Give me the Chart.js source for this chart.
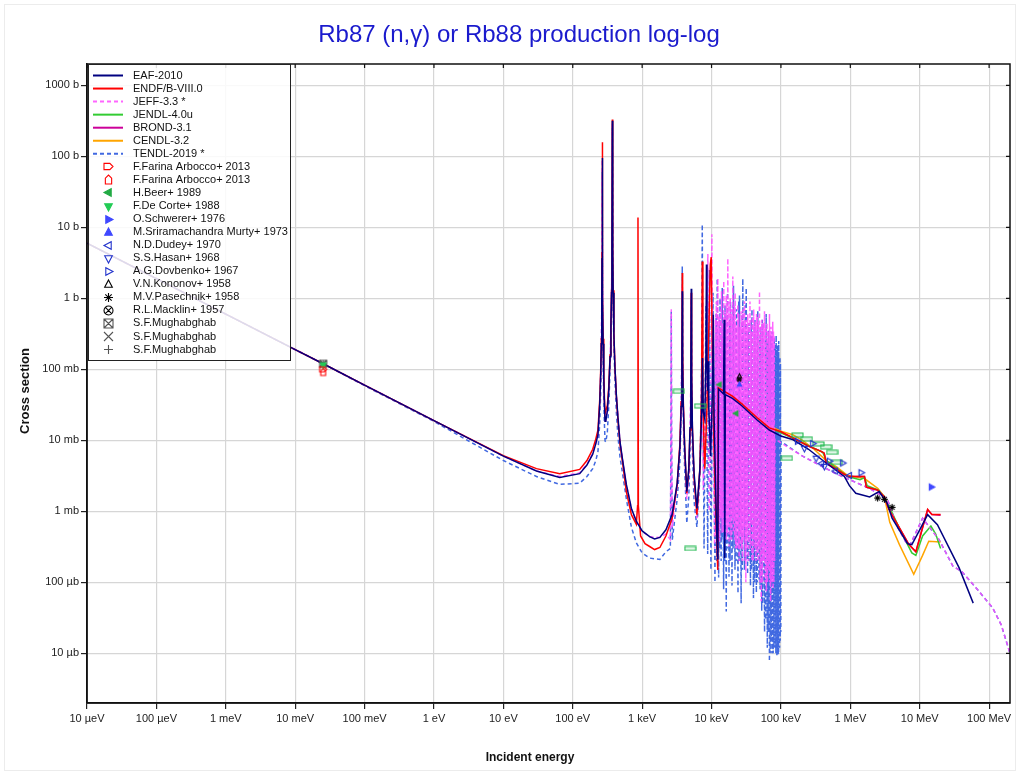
<!DOCTYPE html>
<html>
<head>
<meta charset="utf-8">
<title>Rb87 (n,γ) or Rb88 production log-log</title>
<script src="https://cdn.jsdelivr.net/npm/chart.js@4.4.1/dist/chart.umd.min.js"></script>
<style>
  html, body { margin: 0; padding: 0; background: #fff; }
  #wrap { position: relative; width: 1020px; height: 774px; }
</style>
</head>
<body>
<div id="wrap"><canvas id="chart" width="1020" height="774"></canvas></div>
<script>
// energies in eV, cross sections in barns

const xTickValues = [1e-5, 1e-4, 1e-3, 1e-2, 1e-1, 1, 10, 100, 1e3, 1e4, 1e5, 1e6, 1e7, 1e8];
const xTickLabels = ['10 µeV', '100 µeV', '1 meV', '10 meV', '100 meV', '1 eV', '10 eV', '100 eV',
                     '1 keV', '10 keV', '100 keV', '1 MeV', '10 MeV', '100 MeV'];
const yTickValues = [1e-5, 1e-4, 1e-3, 1e-2, 1e-1, 1, 10, 100, 1000];
const yTickLabels = ['10 µb', '100 µb', '1 mb', '10 mb', '100 mb', '1 b', '10 b', '100 b', '1000 b'];

const eaf2010 = [
    [1e-5, 6.0], [1e-4, 1.9], [1e-3, 0.60], [1e-2, 0.19], [0.0253, 0.12], [0.1, 0.060], [1, 0.019],
    [10, 0.0060], [30, 0.0037], [65, 0.0030], [126, 0.0034], [160, 0.0045], [194, 0.0064], [215, 0.0090],
    [231, 0.012], [245, 0.033], [253, 0.087], [258, 0.23], [262, 0.92], [264, 3.7], [266, 95], [268, 3.7],
    [270, 0.92], [274, 0.23], [280, 0.075], [286, 0.033], [292, 0.0186], [300, 0.019], [315, 0.026],
    [330, 0.05], [345, 0.15], [355, 0.4], [362, 1.2], [367, 4.9], [372, 318], [377, 4.9], [382, 1.2],
    [392, 0.3], [405, 0.11], [425, 0.043], [449, 0.0206], [480, 0.0095], [520, 0.0055], [592, 0.0024],
    [700, 0.0011], [824, 0.00073], [1000, 0.00053], [1282, 0.00044], [1513, 0.00041], [1800, 0.00043],
    [2200, 0.00055], [2700, 0.0009], [3200, 0.0025], [3500, 0.008], [3650, 0.03], [3740, 0.12],
    [3786, 1.26], [3830, 0.12], [3920, 0.03], [4100, 0.008], [4400, 0.0019], [4700, 0.004], [4900, 0.015],
    [5030, 0.08], [5100, 1.37], [5170, 0.08], [5300, 0.015], [5600, 0.0035], [6150, 0.0011], [6800, 0.004],
    [7250, 0.03], [7400, 0.144], [7600, 0.025], [8000, 0.02], [8300, 0.15], [8450, 3.0], [8600, 0.15],
    [8800, 0.05], [8900, 0.13], [9100, 0.03], [9700, 0.006], [10300, 0.05], [10600, 0.59], [10900, 0.02],
    [11800, 0.0006], [12300, 0.00021], [12600, 0.053], [14900, 0.045], [15200, 0.5], [15500, 0.00022],
    [15800, 0.044], [20000, 0.039], [27000, 0.031], [45000, 0.0195], [68000, 0.014], [100000, 0.0115],
    [150000, 0.0102], [250000, 0.0075], [447000, 0.0048], [820000, 0.0031], [970000, 0.0023],
    [1.2e6, 0.0018], [1.9e6, 0.0016], [2.6e6, 0.0019], [3.4e6, 0.0013], [4.0e6, 0.0008], [6.7e6, 0.00035],
    [7.7e6, 0.00034], [10e6, 0.00055], [13e6, 0.0009], [18e6, 0.00065], [37e6, 0.00016], [59e6, 0.000051]
];

const endfb8 = [
    [1e-5, 6.0], [1e-4, 1.9], [1e-3, 0.60], [1e-2, 0.19], [0.0253, 0.12], [0.1, 0.060], [1, 0.019],
    [10, 0.0061], [30, 0.0040], [65, 0.0034], [126, 0.0039], [160, 0.0052], [194, 0.0075], [215, 0.0105],
    [231, 0.014], [245, 0.038], [253, 0.1], [258, 0.27], [262, 1.1], [264, 4.5], [266, 158], [268, 4.5],
    [270, 1.1], [274, 0.27], [280, 0.09], [286, 0.04], [292, 0.024], [300, 0.024], [315, 0.031],
    [330, 0.056], [345, 0.16], [355, 0.43], [362, 1.3], [367, 5.2], [372, 330], [377, 5.2], [382, 1.3],
    [392, 0.31], [405, 0.11], [425, 0.042], [449, 0.019], [480, 0.0088], [520, 0.005], [592, 0.0019],
    [700, 0.0009], [824, 0.00066], [860, 0.0012], [871, 13.8], [882, 0.0012], [950, 0.00045],
    [1100, 0.00035], [1282, 0.00032], [1513, 0.00029], [1800, 0.00031], [2200, 0.00045], [2700, 0.0008],
    [3200, 0.0024], [3500, 0.009], [3650, 0.035], [3740, 0.2], [3786, 2.27], [3830, 0.2], [3920, 0.035],
    [4100, 0.008], [4400, 0.0018], [4700, 0.0038], [4900, 0.014], [5030, 0.07], [5100, 1.2], [5170, 0.07],
    [5300, 0.014], [5600, 0.003], [6150, 0.0009], [6800, 0.004], [7200, 0.05], [7350, 3.3], [7500, 0.05],
    [7800, 0.008], [8000, 0.004], [8600, 0.03], [9200, 0.5], [9600, 3.0], [9900, 3.8], [10200, 0.3],
    [10800, 0.01], [11500, 0.001], [12300, 0.00015], [12500, 0.055], [20000, 0.042], [27000, 0.033],
    [45000, 0.021], [68000, 0.015], [100000, 0.0132], [150000, 0.0108], [250000, 0.0083], [380000, 0.0070],
    [420000, 0.0066], [450000, 0.0048], [920000, 0.0031], [1.6e6, 0.0031], [1.7e6, 0.0022],
    [2.46e6, 0.0020], [3.1e6, 0.0016], [3.6e6, 0.00107], [7.0e6, 0.00034], [8.8e6, 0.00027],
    [13e6, 0.00107], [15e6, 0.0009], [20e6, 0.0009]
];

const jeff33 = [
    [1e-5, 6.0], [1e-4, 1.9], [1e-3, 0.60], [1e-2, 0.19], [0.0253, 0.12], [0.1, 0.060], [1, 0.019],
    [10, 0.0060], [30, 0.0037], [65, 0.0031], [126, 0.0035], [160, 0.0046], [194, 0.0065], [215, 0.0091],
    [231, 0.012], [245, 0.033], [253, 0.087], [258, 0.23], [262, 0.9], [264, 3.6], [266, 90], [268, 3.6],
    [270, 0.9], [274, 0.23], [280, 0.075], [286, 0.033], [292, 0.019], [300, 0.019], [315, 0.026],
    [330, 0.05], [345, 0.15], [355, 0.4], [362, 1.2], [367, 4.8], [372, 300], [377, 4.8], [382, 1.2],
    [392, 0.3], [405, 0.11], [425, 0.043], [449, 0.021], [480, 0.0097], [520, 0.0056], [592, 0.0024],
    [700, 0.0011], [824, 0.00072], [1000, 0.00052], [1282, 0.00044], [1800, 0.00043], [2200, 0.00048],
    [2550, 0.0004], [2600, 0.01], [2630, 0.7], [2660, 0.01], [2720, 0.0006], [3200, 0.0025], [3500, 0.008],
    [3650, 0.03], [3740, 0.13], [3786, 1.5], [3830, 0.13], [3920, 0.03], [4100, 0.007], [4400, 0.0015],
    [4700, 0.0035], [4900, 0.014], [5030, 0.07], [5100, 1.2], [5170, 0.07], [5300, 0.014], [5600, 0.003],
    [6150, 0.0008], [6900, 0.005], [7300, 0.3], [7600, 0.002], [8300, 0.05], [8850, 4.2], [9300, 0.001],
    [9800, 0.05], [10100, 8], [10500, 0.01], [11100, 0.0003], [11400, 0.5], [11550, 0.0005], [11700, 0.9],
    [11900, 0.0006], [12100, 0.4], [12200, 0.0008], [12320, 1.91], [12600, 0.0004], [12850, 0.55],
    [13100, 0.00038], [13500, 0.7], [13700, 0.0008], [13930, 1.26], [14200, 0.0005], [14450, 0.45],
    [14700, 0.0005], [15000, 1.75], [15300, 0.0006], [15600, 0.6], [16000, 0.0007], [16300, 1.1],
    [16450, 0.0004], [16600, 0.8], [16850, 0.0005], [17160, 3.66], [17500, 0.0006], [17700, 0.9],
    [17900, 0.00032], [18200, 0.5], [18400, 0.0006], [18600, 1.0], [19000, 0.0004], [19300, 0.7],
    [19500, 0.0004], [19800, 0.6], [20000, 0.0008], [20250, 2.04], [20600, 0.0005], [20800, 0.5],
    [21000, 0.00072], [21400, 0.8], [21650, 0.0004], [21900, 1.2], [22300, 0.0003], [22600, 0.4],
    [22900, 0.0003], [23400, 0.5], [23650, 0.0006], [23900, 0.82], [24300, 0.0003], [24700, 0.6],
    [25000, 0.0002], [25300, 0.35], [25600, 0.0003], [26000, 0.4], [26300, 0.0005], [26700, 0.66],
    [27100, 0.0003], [27500, 0.5], [27900, 0.0002], [28300, 0.7], [28700, 0.0004], [29100, 0.45],
    [29500, 0.0006], [29900, 0.91], [30400, 0.0002], [30900, 0.5], [31200, 0.0001], [31500, 0.4],
    [31900, 0.0003], [32400, 0.5], [32850, 0.0004], [33300, 0.60], [33900, 0.0002], [34500, 0.45],
    [35100, 0.0004], [35800, 0.9], [36200, 0.0003], [36700, 0.5], [37100, 0.00072], [37600, 0.34],
    [38300, 0.0002], [39000, 0.55], [39700, 0.0002], [40500, 0.7], [41100, 0.0004], [41700, 0.4],
    [42300, 0.0003], [43000, 0.47], [43700, 0.0002], [44500, 0.6], [45200, 0.00027], [46000, 0.55],
    [46800, 0.0002], [47500, 0.45], [48300, 0.0003], [49100, 1.26], [50000, 0.0001], [51000, 0.4],
    [52000, 0.000054], [53000, 0.5], [54200, 0.0001], [55500, 0.45], [56200, 0.0002], [56800, 0.35],
    [57400, 0.0002], [58000, 0.66], [59200, 0.0001], [60500, 0.4], [61700, 0.000075], [63000, 0.45],
    [64200, 0.0001], [65500, 0.35], [66300, 0.00015], [67000, 0.3], [67700, 0.0002], [68400, 0.60],
    [69200, 0.0001], [70000, 0.35], [71000, 0.000054], [72000, 0.4], [73000, 0.0001], [74000, 0.3],
    [75100, 0.0001], [76200, 0.47], [77100, 0.00008], [78000, 0.35], [79000, 0.0001], [80000, 0.3],
    [81000, 0.0002], [82000, 0.0105], [100000, 0.0092], [205000, 0.0060], [620000, 0.0034],
    [1.9e6, 0.0021], [3.4e6, 0.0015], [4.6e6, 0.00065], [6.3e6, 0.00037], [7.3e6, 0.00034], [11e6, 0.0008],
    [19e6, 0.0004], [30e6, 0.00017], [41e6, 0.00014], [64e6, 0.000085], [112e6, 0.000044],
    [150e6, 0.000025], [200e6, 0.000010]
];

const jendl40u = [
    [12500, 0.055], [20000, 0.042], [27000, 0.033], [45000, 0.0205], [68000, 0.015], [100000, 0.0128],
    [150000, 0.0107], [250000, 0.0084], [400000, 0.0068], [450000, 0.0052], [920000, 0.0031],
    [1.38e6, 0.0028], [1.6e6, 0.0030], [1.75e6, 0.0023], [2.5e6, 0.0020], [3.1e6, 0.0016], [3.6e6, 0.0012],
    [5.07e6, 0.00058], [7.7e6, 0.00026], [8.8e6, 0.00024], [11e6, 0.00045], [14.5e6, 0.00062],
    [17e6, 0.00048], [20e6, 0.0003]
];

const brond31 = [
    [12500, 0.055], [20000, 0.042], [27000, 0.033], [45000, 0.021], [68000, 0.015], [100000, 0.0130],
    [150000, 0.0108], [250000, 0.0083], [380000, 0.0070], [420000, 0.0066], [450000, 0.0048],
    [920000, 0.0031], [1.6e6, 0.0031], [1.7e6, 0.0022], [2.46e6, 0.0020], [3.1e6, 0.0016], [3.6e6, 0.00107],
    [7.0e6, 0.00034], [8.8e6, 0.00027], [13e6, 0.00105], [15e6, 0.0009], [20e6, 0.00088]
];

const cendl32 = [
    [12500, 0.056], [27000, 0.034], [45000, 0.022], [68000, 0.016], [100000, 0.0135], [148000, 0.012],
    [205000, 0.0100], [300000, 0.0075], [450000, 0.0052], [620000, 0.0043], [920000, 0.0032],
    [1.6e6, 0.0029], [2.5e6, 0.0021], [3.1e6, 0.0016], [3.7e6, 0.0007], [5.1e6, 0.00034], [8.2e6, 0.00013],
    [11e6, 0.00024], [13.5e6, 0.00038], [20e6, 0.00037]
];

const tendl2019 = [
    [1e-5, 6.0], [1e-4, 1.9], [1e-3, 0.60], [1e-2, 0.19], [0.0253, 0.12], [0.1, 0.059], [1, 0.0185],
    [10, 0.0052], [30, 0.0031], [65, 0.0024], [126, 0.0025], [160, 0.0031], [194, 0.0040], [215, 0.0052],
    [231, 0.007], [245, 0.018], [253, 0.05], [258, 0.14], [262, 0.55], [264, 2.3], [266, 60], [268, 2.3],
    [270, 0.55], [274, 0.14], [280, 0.04], [286, 0.017], [292, 0.0098], [300, 0.0095], [315, 0.013],
    [330, 0.03], [345, 0.1], [355, 0.3], [362, 0.9], [367, 3.8], [372, 250], [377, 3.8], [382, 0.9],
    [392, 0.22], [405, 0.07], [425, 0.025], [449, 0.011], [480, 0.0058], [520, 0.0035], [592, 0.0015],
    [700, 0.0006], [824, 0.00036], [1000, 0.00026], [1282, 0.00022], [1800, 0.00021], [2200, 0.00027],
    [2550, 0.0003], [2600, 0.01], [2630, 0.65], [2660, 0.01], [2720, 0.0004], [3200, 0.0015], [3500, 0.005],
    [3650, 0.025], [3740, 0.18], [3786, 2.8], [3830, 0.18], [3920, 0.02], [4100, 0.004], [4400, 0.00068],
    [4700, 0.0016], [4900, 0.007], [5030, 0.05], [5100, 1.0], [5170, 0.05], [5300, 0.007], [5600, 0.0014],
    [6150, 0.0006], [6800, 0.003], [7200, 0.1], [7350, 11], [7500, 0.1], [7800, 0.0003], [8300, 0.8],
    [8800, 0.00025], [9300, 2.5], [9800, 0.00015], [10500, 1.2], [11200, 0.0001], [11650, 0.6],
    [11850, 0.0002], [12080, 1.9], [12650, 0.000117], [12950, 0.5], [13100, 0.0003], [13260, 1.0],
    [13750, 0.0002], [14000, 0.7], [14100, 0.0004], [14260, 1.4], [14930, 0.00008], [15300, 0.45],
    [15450, 0.0002], [15640, 0.8], [16300, 0.000039], [16650, 0.6], [16800, 0.0003], [16990, 1.2],
    [17860, 0.00012], [18300, 0.5], [18500, 0.0002], [18770, 0.9], [19730, 0.00009], [20200, 0.8],
    [20450, 0.0003], [20730, 1.5], [21780, 0.00015], [22300, 0.4], [22600, 0.0002], [22890, 0.7],
    [24060, 0.00007], [24650, 0.9], [24950, 0.0002], [25280, 1.1], [26700, 0.000051], [27400, 0.6],
    [27800, 0.00015], [28200, 1.9], [29840, 0.00015], [30700, 0.8], [31100, 0.0002], [31580, 1.4],
    [33070, 0.00013], [33800, 0.35], [34200, 0.0002], [34640, 0.45], [36400, 0.00009], [37300, 0.5],
    [37750, 0.00015], [38250, 0.7], [40200, 0.00006], [41200, 0.4], [41700, 0.0001], [42250, 0.5],
    [44260, 0.000072], [45300, 0.35], [45800, 0.0001], [46360, 0.66], [48500, 0.00011], [49600, 0.3],
    [50100, 0.00008], [50700, 0.4], [52850, 0.00004], [53900, 0.5], [54500, 0.00005], [55080, 0.45],
    [58080, 0.00002], [59700, 0.3], [60500, 0.00003], [61240, 0.6], [63630, 0.000012], [64800, 0.25],
    [65400, 0.00002], [66100, 0.35], [68300, 0.0000077], [69400, 0.2], [70000, 0.00001], [70600, 0.3],
    [72600, 0.000015], [73600, 0.3], [74100, 0.00001], [74700, 0.34], [77350, 0.00001], [78700, 0.2],
    [79400, 0.000012], [80100, 0.28], [82660, 0.000012], [84000, 0.22], [84600, 0.00001], [85300, 0.3],
    [87470, 0.000009], [88600, 0.18], [89100, 0.00001], [89700, 0.22], [91340, 0.0000095], [92200, 0.15],
    [92600, 0.00001], [93000, 0.25], [95660, 0.000012], [97000, 0.15], [97700, 0.000015], [98400, 0.12],
    [99500, 0.00002], [100500, 0.0096], [205000, 0.0060], [620000, 0.0034], [1.9e6, 0.0021],
    [3.4e6, 0.0015], [4.6e6, 0.00065], [6.3e6, 0.00037], [7.3e6, 0.00034], [11e6, 0.0008], [19e6, 0.0004],
    [30e6, 0.00017], [41e6, 0.00014], [64e6, 0.000085], [112e6, 0.000044], [150e6, 0.000025],
    [200e6, 0.000010]
];

// measurements (EXFOR)
const farina2013a = [[0.0253, 0.100]];
const farina2013b = [[0.0253, 0.092]];
const beer1989 = [[13000, 0.061], [22600, 0.024]];
const beer1989bins = [
    [3380, 0.049], [6840, 0.0306], [4940, 0.00030], [122000, 0.0056], [173000, 0.0119], [237000, 0.0104],
    [347000, 0.0089], [447000, 0.0081], [546000, 0.0068], [636000, 0.0049]
];
const decorte1988 = [[0.0253, 0.115]];
const schwerer1976 = [[14.7e6, 0.0022]];
const murty1973 = [[25300, 0.061]];
const dudey1970 = [[383000, 0.0047], [608000, 0.0037], [968000, 0.0032]];
const hasan1968 = [[218000, 0.0077], [321000, 0.0056], [423000, 0.0043]];
const dovbenko1967 = [[173000, 0.0097], [287000, 0.0090], [499000, 0.0051], [776000, 0.0048], [1.43e6, 0.0035]];
const kononov1958 = [[25300, 0.080]];
const pasechnik1958 = [[2.47e6, 0.00154], [3.1e6, 0.00148], [4.0e6, 0.00114]];
const macklin1957 = [[25000, 0.072]];
const mughabghabA = [[0.0253, 0.12]];
const mughabghabB = [[0.0253, 0.12]];
const mughabghabC = [[0.0253, 0.12]];

const FONT = '"Liberation Sans", Arial, Helvetica, sans-serif';

// small marker pictures, used both on the plot and in the legend
function makeMarker(kind, color, filled, size) {
    const c = document.createElement('canvas');
    const bar = kind === 'bar';
    c.width = bar ? 13 : size + 4;
    c.height = bar ? 6 : size + 4;
    const g = c.getContext('2d');
    const cx = c.width / 2, cy = c.height / 2, r = size / 2;
    g.strokeStyle = color;
    g.fillStyle = color;
    g.lineWidth = 1.1;
    g.beginPath();
    const tri = (dx, dy) => {
        // tip in direction (dx,dy)
        const px = -dy, py = dx;
        g.moveTo(cx + dx * r, cy + dy * r);
        g.lineTo(cx - dx * r * 0.6 + px * r * 0.85, cy - dy * r * 0.6 + py * r * 0.85);
        g.lineTo(cx - dx * r * 0.6 - px * r * 0.85, cy - dy * r * 0.6 - py * r * 0.85);
        g.closePath();
    };
    switch (kind) {
        case 'triUp': tri(0, -1); break;
        case 'triDown': tri(0, 1); break;
        case 'triLeft': tri(-1, 0); break;
        case 'triRight': tri(1, 0); break;
        case 'houseRight':
            g.moveTo(cx - r, cy - r * 0.7); g.lineTo(cx + r * 0.3, cy - r * 0.7); g.lineTo(cx + r, cy);
            g.lineTo(cx + r * 0.3, cy + r * 0.7); g.lineTo(cx - r, cy + r * 0.7); g.closePath();
            break;
        case 'houseUp':
            g.moveTo(cx - r * 0.7, cy + r); g.lineTo(cx - r * 0.7, cy - r * 0.3); g.lineTo(cx, cy - r);
            g.lineTo(cx + r * 0.7, cy - r * 0.3); g.lineTo(cx + r * 0.7, cy + r); g.closePath();
            break;
        case 'boxX':
            g.rect(cx - r, cy - r, 2 * r, 2 * r);
            g.moveTo(cx - r, cy - r); g.lineTo(cx + r, cy + r); g.moveTo(cx + r, cy - r); g.lineTo(cx - r, cy + r);
            break;
        case 'circleX':
            g.arc(cx, cy, r, 0, Math.PI * 2);
            g.moveTo(cx - r * 0.7, cy - r * 0.7); g.lineTo(cx + r * 0.7, cy + r * 0.7);
            g.moveTo(cx + r * 0.7, cy - r * 0.7); g.lineTo(cx - r * 0.7, cy + r * 0.7);
            break;
        case 'cross':
            g.moveTo(cx - r, cy - r); g.lineTo(cx + r, cy + r); g.moveTo(cx + r, cy - r); g.lineTo(cx - r, cy + r);
            break;
        case 'plus':
            g.moveTo(cx - r, cy); g.lineTo(cx + r, cy); g.moveTo(cx, cy - r); g.lineTo(cx, cy + r);
            break;
        case 'star':
            for (let k = 0; k < 4; k++) {
                const a = k * Math.PI / 4;
                g.moveTo(cx - Math.cos(a) * r, cy - Math.sin(a) * r);
                g.lineTo(cx + Math.cos(a) * r, cy + Math.sin(a) * r);
            }
            break;
        case 'bar':
            g.fillStyle = 'rgba(40,190,90,0.15)';
            g.rect(1, 1, c.width - 2, c.height - 2);
            g.fill();
            break;
    }
    if (filled) g.fill();
    g.stroke();
    return c;
}

const toXY = arr => arr.map(p => ({ x: p[0], y: p[1] }));

function lineSet(label, pts, color, dash, order) {
    return {
        label: label, data: toXY(pts), borderColor: color, backgroundColor: color,
        borderWidth: 1.5, borderDash: dash || [], pointRadius: 0, pointHoverRadius: 0,
        tension: 0, fill: false, order: order, legendLine: true
    };
}

function markerSet(label, pts, kind, color, filled, size, inLegend) {
    return {
        label: label, data: toXY(pts), showLine: false, order: 0,
        pointStyle: makeMarker(kind, color, filled, size), pointRadius: 4,
        legendMarker: inLegend === false ? null : makeMarker(kind, color, filled, 9),
        inLegend: inLegend !== false
    };
}

const datasets = [
    lineSet('EAF-2010', eaf2010, '#000080', null, 1),
    lineSet('ENDF/B-VIII.0', endfb8, '#ff0000', null, 2),
    lineSet('JEFF-3.3 *', jeff33, 'rgba(255,80,255,0.88)', [4, 3], 3),
    lineSet('JENDL-4.0u', jendl40u, '#33cc33', null, 4),
    lineSet('BROND-3.1', brond31, '#cc0099', null, 5),
    lineSet('CENDL-3.2', cendl32, '#ffa500', null, 6),
    lineSet('TENDL-2019 *', tendl2019, '#4169e1', [4, 3], 7),
    markerSet('F.Farina Arbocco+ 2013', farina2013a, 'houseRight', '#ff0000', false, 7),
    markerSet('F.Farina Arbocco+ 2013', farina2013b, 'houseUp', '#ff0000', false, 7),
    markerSet('H.Beer+ 1989', beer1989, 'triLeft', '#22aa44', true, 6),
    markerSet('F.De Corte+ 1988', decorte1988, 'triDown', '#22cc55', true, 7),
    markerSet('O.Schwerer+ 1976', schwerer1976, 'triRight', '#3f48ff', true, 7),
    markerSet('M.Sriramachandra Murty+ 1973', murty1973, 'triUp', '#3f48ff', true, 5),
    markerSet('N.D.Dudey+ 1970', dudey1970, 'triLeft', '#2233cc', false, 7),
    markerSet('S.S.Hasan+ 1968', hasan1968, 'triDown', '#2233cc', false, 7),
    markerSet('A.G.Dovbenko+ 1967', dovbenko1967, 'triRight', '#2233cc', false, 7),
    markerSet('V.N.Kononov+ 1958', kononov1958, 'triUp', '#000000', false, 5),
    markerSet('M.V.Pasechnik+ 1958', pasechnik1958, 'star', '#000000', false, 7),
    markerSet('R.L.Macklin+ 1957', macklin1957, 'circleX', '#000000', false, 4),
    markerSet('S.F.Mughabghab', mughabghabA, 'boxX', '#555555', false, 7),
    markerSet('S.F.Mughabghab', mughabghabB, 'cross', '#555555', false, 7),
    markerSet('S.F.Mughabghab', mughabghabC, 'plus', '#555555', false, 7),
    markerSet('H.Beer+ 1989', beer1989bins, 'bar', '#22b850', false, 0, false)
];

function tickText(values, labels, v) {
    const i = values.findIndex(t => Math.abs(Math.log10(t) - Math.log10(v)) < 1e-6);
    return i >= 0 ? labels[i] : '';
}

// white page, frame, titles, box legend
const framePlugin = {
    id: 'frame',
    beforeDraw(chart) {
        const ctx = chart.ctx;
        ctx.save();
        ctx.fillStyle = '#fff';
        ctx.fillRect(0, 0, chart.width, chart.height);
        ctx.strokeStyle = '#ececec';
        ctx.lineWidth = 1;
        ctx.strokeRect(4.5, 4.5, 1011, 766);
        ctx.restore();
    },
    afterDraw(chart) {
        const ctx = chart.ctx;
        const a = chart.chartArea;
        ctx.save();
        // plot frame and inner ticks on top/right
        ctx.strokeStyle = '#111';
        ctx.lineWidth = 1.5;
        ctx.strokeRect(a.left, a.top, a.right - a.left, a.bottom - a.top);
        ctx.lineWidth = 1.2;
        ctx.beginPath();
        xTickValues.forEach(v => {
            const x = chart.scales.x.getPixelForValue(v);
            ctx.moveTo(x, a.top); ctx.lineTo(x, a.top + 4);
        });
        yTickValues.forEach(v => {
            const y = chart.scales.y.getPixelForValue(v);
            ctx.moveTo(a.right, y); ctx.lineTo(a.right - 4, y);
        });
        ctx.stroke();

        // title
        ctx.fillStyle = '#1a1acd';
        ctx.font = '24px ' + FONT;
        ctx.textAlign = 'center';
        ctx.textBaseline = 'middle';
        ctx.fillText('Rb87 (n,γ) or Rb88 production log-log', 519, 35);

        // axis titles
        ctx.fillStyle = '#111';
        ctx.font = 'bold 12px ' + FONT;
        ctx.fillText('Incident energy', 530, 758);
        ctx.font = 'bold 13px ' + FONT;
        ctx.translate(25, 391);
        ctx.rotate(-Math.PI / 2);
        ctx.fillText('Cross section', 0, 0);
        ctx.restore();

        // legend box
        ctx.save();
        const lx = 88, ly = 64, lw = 202, lh = 296;
        ctx.fillStyle = 'rgba(255,255,255,0.86)';
        ctx.fillRect(lx, ly, lw, lh);
        ctx.strokeStyle = '#222';
        ctx.lineWidth = 1;
        ctx.strokeRect(lx + 0.5, ly + 0.5, lw, lh);
        ctx.font = '11px ' + FONT;
        ctx.textBaseline = 'middle';
        ctx.textAlign = 'left';
        let row = 0;
        chart.data.datasets.forEach(ds => {
            if (ds.inLegend === false) return;
            const y = 75.5 + row * 13.05;
            if (ds.legendLine) {
                ctx.strokeStyle = ds.borderColor;
                ctx.lineWidth = 2;
                ctx.setLineDash(ds.borderDash || []);
                ctx.beginPath();
                ctx.moveTo(93, y); ctx.lineTo(123, y);
                ctx.stroke();
                ctx.setLineDash([]);
            } else if (ds.legendMarker) {
                const m = ds.legendMarker;
                ctx.drawImage(m, Math.round(108 - m.width / 2), Math.round(y - m.height / 2));
            }
            ctx.fillStyle = '#111';
            ctx.fillText(ds.label, 133, y);
            row++;
        });
        ctx.restore();
    }
};

new Chart(document.getElementById('chart'), {
    type: 'line',
    data: { datasets: datasets },
    options: {
        responsive: false,
        devicePixelRatio: 1,
        animation: false,
        events: [],
        layout: { padding: { left: 0, top: 64, right: 10, bottom: 0 } },
        plugins: { legend: { display: false }, tooltip: { enabled: false }, title: { display: false } },
        scales: {
            x: {
                type: 'logarithmic', min: 1e-5, max: 2e8,
                afterBuildTicks: s => { s.ticks = xTickValues.map(v => ({ value: v })); },
                afterFit: s => { s.height = 71; },
                ticks: {
                    autoSkip: false, maxRotation: 0, minRotation: 0, padding: 3, color: '#222',
                    font: { family: FONT, size: 11 },
                    callback: v => tickText(xTickValues, xTickLabels, v)
                },
                grid: { color: '#d6d6d6', lineWidth: 1.2, tickLength: 6, tickColor: '#222', tickWidth: 1.2 },
                border: { display: true, color: '#111', width: 1.5 }
            },
            y: {
                type: 'logarithmic', min: 2e-6, max: 2e3,
                afterBuildTicks: s => { s.ticks = yTickValues.map(v => ({ value: v })); },
                afterFit: s => { s.width = 87; },
                ticks: {
                    autoSkip: false, padding: 2, color: '#222',
                    font: { family: FONT, size: 11 },
                    callback: v => tickText(yTickValues, yTickLabels, v)
                },
                grid: { color: '#d6d6d6', lineWidth: 1.2, tickLength: 6, tickColor: '#222', tickWidth: 1.2 },
                border: { display: true, color: '#111', width: 1.5 }
            }
        }
    },
    plugins: [framePlugin]
});
</script>
</body>
</html>
